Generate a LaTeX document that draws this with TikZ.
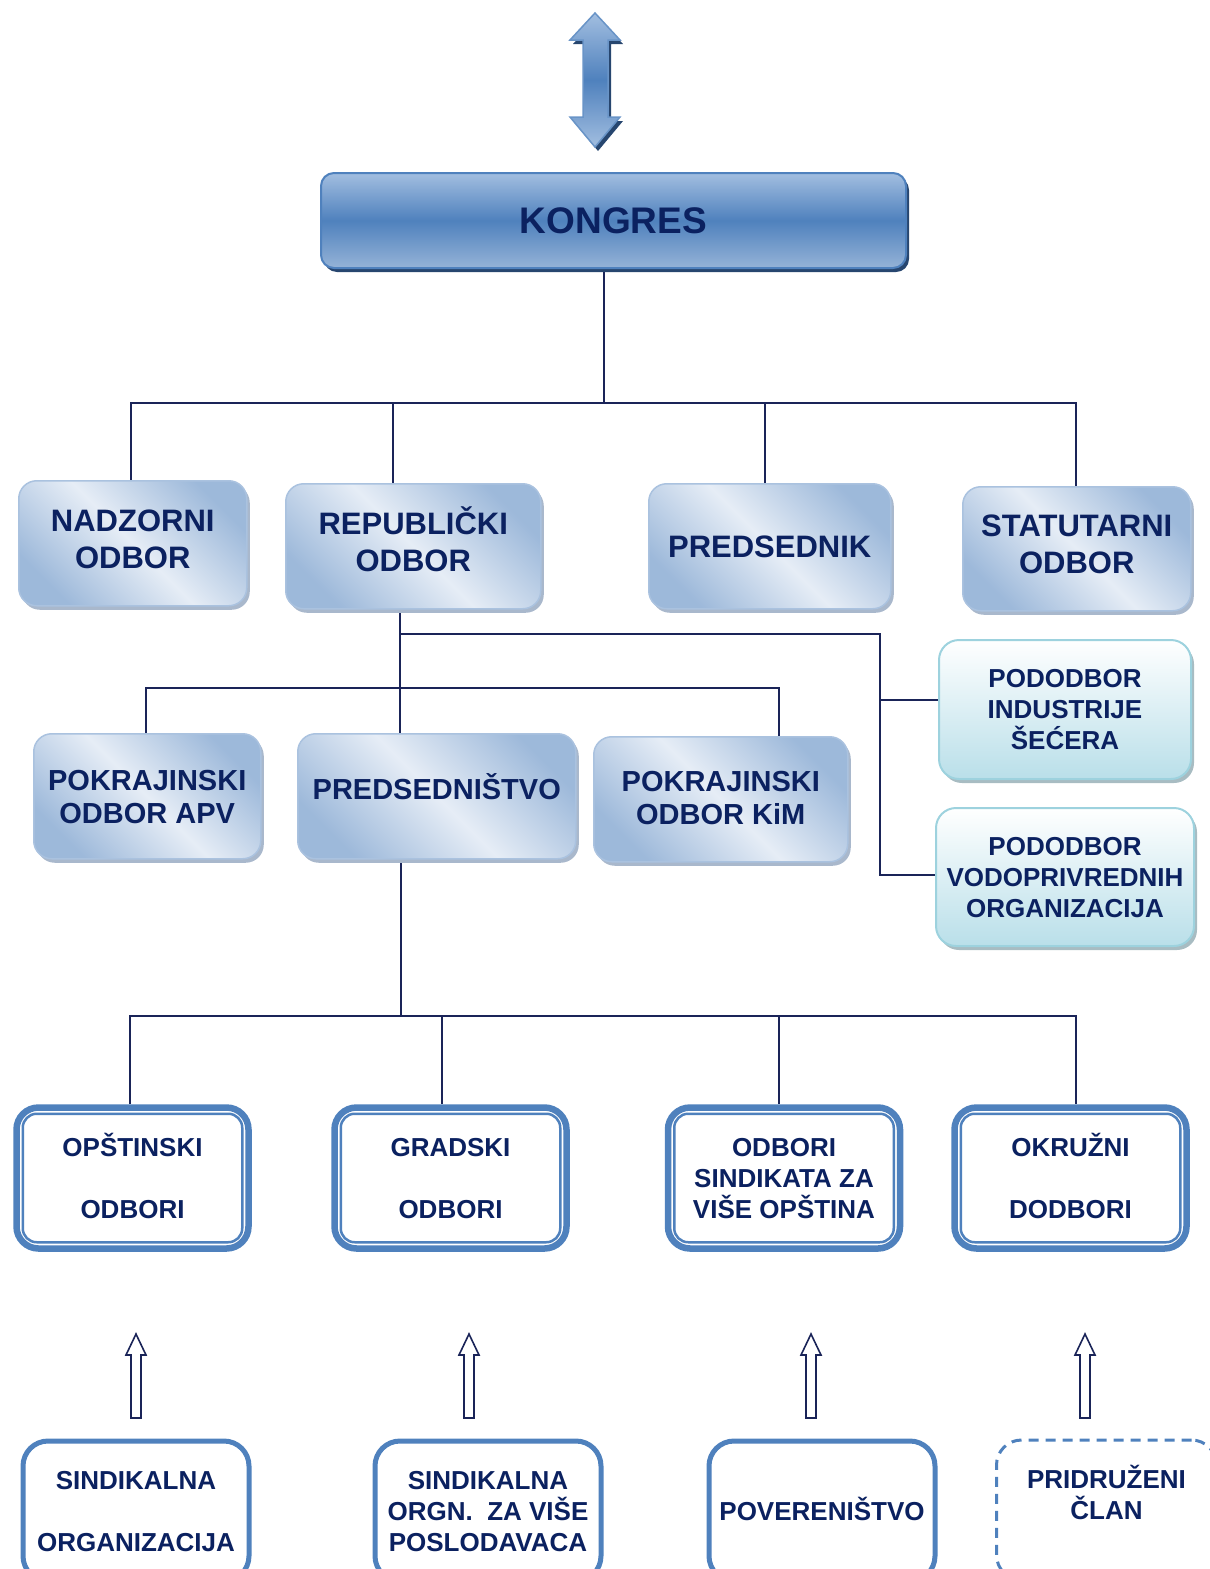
\documentclass[tikz,border=0pt]{standalone}
\usepackage{fontspec}
\setmainfont{Liberation Sans}
\usetikzlibrary{shadows,backgrounds}
\definecolor{navy}{HTML}{0B2160}
\definecolor{linec}{HTML}{1A2458}
\definecolor{bluem}{HTML}{4F81BD}
\definecolor{bluel}{HTML}{95B3D7}
\definecolor{bluek}{HTML}{A2BEE0}
\definecolor{bluexl}{HTML}{E6EDF6}
\definecolor{tealb}{HTML}{9DD2DE}
\definecolor{teall}{HTML}{B9DFE9}
\definecolor{shadowa}{HTML}{A9B8CC}
\definecolor{shadowt}{HTML}{A8BCC2}
\definecolor{shadowk}{HTML}{27466F}
\begin{document}
\begin{tikzpicture}[x=1pt,y=-1pt,
  conn/.style={draw=linec,line width=1.5pt},
  txtA/.style={text=navy,align=center,font=\bfseries\fontsize{31}{37}\selectfont},
  txtB/.style={text=navy,align=center,font=\bfseries\fontsize{29}{33}\selectfont},
  txtC/.style={text=navy,align=center,font=\bfseries\fontsize{26}{31}\selectfont,text height=80.6pt},
  kbox/.style={anchor=north west,inner sep=0pt,rounded corners=13pt,draw=bluem,line width=2pt,
     top color=bluek,bottom color=bluel,middle color=bluem,
     drop shadow={shadow xshift=3pt,shadow yshift=-4pt,fill=shadowk,opacity=1},
     text=navy,font=\bfseries\fontsize{37}{40}\selectfont},
  gbox/.style={anchor=north west,inner sep=0pt,rounded corners=18pt,draw=bluel!80,line width=1.5pt,
     top color=bluel!92!white,bottom color=bluel!92!white,middle color=bluexl,shading angle=-45,
     drop shadow={shadow xshift=3pt,shadow yshift=-4pt,fill=shadowa,opacity=1}},
  tbox/.style={anchor=north west,inner sep=0pt,rounded corners=20pt,draw=tealb,line width=2pt,
     top color=white,bottom color=teall,
     drop shadow={shadow xshift=3pt,shadow yshift=-4pt,fill=shadowt,opacity=1},txtC},
  obox/.style={anchor=north west,inner sep=0pt,rounded corners=22pt,draw=bluem,line width=6.5pt,
     fill=white,minimum width=232pt,minimum height=141pt,txtC},
  ibox/.style={draw=bluem,line width=2.5pt,rounded corners=14pt},
  bbox/.style={anchor=north west,inner sep=0pt,rounded corners=25pt,draw=bluem,line width=5pt,
     fill=white,minimum width=226pt,minimum height=140pt,txtC},
  dbox/.style={anchor=north west,inner sep=0pt,rounded corners=25pt,draw=bluem,line width=3pt,
     dash pattern=on 10pt off 7pt,minimum width=220pt,minimum height=140pt,txtC},
  harrow/.style={draw=linec,line width=1.6pt,fill=white,line join=miter}
]
\useasboundingbox (0,0) rectangle (1210,1569);
\clip (0,0) rectangle (1210,1569);

% top double arrow
\shade[top color=bluek,bottom color=bluek,middle color=bluem,draw=bluem!85,line width=1.5pt,
  drop shadow={shadow xshift=3pt,shadow yshift=-4pt,fill=shadowk,opacity=1}]
  (595,13) -- (620,40) -- (608,40) -- (608,117) -- (620,117) -- (595,147) -- (570,117)
  -- (583,117) -- (583,40) -- (570,40) -- cycle;

% KONGRES
\node[kbox,minimum width=585pt,minimum height=95pt] (kongres) at (320,172) {KONGRES};

% row 2
\node[gbox,txtA,text height=51.2pt,minimum width=228pt,minimum height=125pt] (nadzorni) at (18,480) {NADZORNI\\ODBOR};
\node[gbox,txtA,text height=50.2pt,minimum width=255pt,minimum height=125pt] (republicki) at (285,483) {REPUBLIČKI\\ODBOR};
\node[gbox,txtA,text height=22.2pt,minimum width=242pt,minimum height=125pt] (predsednik) at (648,483) {PREDSEDNIK};
\node[gbox,txtA,text height=50.2pt,minimum width=228pt,minimum height=124pt] (statutarni) at (962,486) {STATUTARNI\\ODBOR};

% row 3
\node[gbox,txtB,text height=53.8pt,minimum width=227pt,minimum height=125pt] (apv) at (33,733) {POKRAJINSKI\\ODBOR APV};
\node[gbox,txtB,text height=5.8pt,minimum width=278pt,minimum height=125pt] (predsednistvo) at (297,733) {PREDSEDNIŠTVO};
\node[gbox,txtB,text height=49.8pt,minimum width=254pt,minimum height=125pt] (kim) at (593,736) {POKRAJINSKI\\ODBOR KiM};
\node[tbox,minimum width=252pt,minimum height=139pt] (pod1) at (938,639) {PODODBOR\\INDUSTRIJE\\ŠEĆERA};
\node[tbox,minimum width=258pt,minimum height=138pt] (pod2) at (935,807) {PODODBOR\\VODOPRIVREDNIH\\ORGANIZACIJA};

% row 4
\node[obox] (opstinski) at (13.25,1104.25) {OPŠTINSKI\\[31pt]ODBORI};
\node[obox] (gradski) at (331.25,1104.25) {GRADSKI\\[31pt]ODBORI};
\node[obox] (odbsind) at (664.75,1104.25) {ODBORI\\SINDIKATA ZA\\VIŠE OPŠTINA};
\node[obox] (okruzni) at (951.25,1104.25) {OKRUŽNI\\[31pt]DODBORI};
\draw[ibox] ([shift={(9.5,9.5)}]opstinski.north west) rectangle ([shift={(-9.5,-9.5)}]opstinski.south east);
\draw[ibox] ([shift={(9.5,9.5)}]gradski.north west) rectangle ([shift={(-9.5,-9.5)}]gradski.south east);
\draw[ibox] ([shift={(9.5,9.5)}]odbsind.north west) rectangle ([shift={(-9.5,-9.5)}]odbsind.south east);
\draw[ibox] ([shift={(9.5,9.5)}]okruzni.north west) rectangle ([shift={(-9.5,-9.5)}]okruzni.south east);

% bottom row
\node[bbox] (sindorg) at (20.5,1438.5) {SINDIKALNA\\[31pt]ORGANIZACIJA};
\node[bbox] (sindorgn) at (372.5,1438.5) {SINDIKALNA\\ORGN.~~ZA VIŠE\\POSLODAVACA};
\node[bbox,text height=18.6pt] (povereni) at (706.5,1438.5) {POVERENIŠTVO};
\node[dbox] (pridruzeni) at (995,1438.5) {PRIDRUŽENI\\ČLAN\\~};

% hollow arrows
\foreach \c in {136,469,811,1085}{
  \draw[harrow] (\c,1334) -- (\c+10,1355) -- (\c+5,1355) -- (\c+5,1418) -- (\c-5,1418)
    -- (\c-5,1355) -- (\c-10,1355) -- cycle;
}

% connectors
\begin{scope}[on background layer]
\coordinate (bus1) at (604,403);
\coordinate (b1L) at (131,403);
\coordinate (b1R) at (1076,403);
\coordinate (b1r) at (393,403);
\coordinate (b1p) at (765,403);
\draw[conn] (kongres.south -| bus1) -- (bus1);
\draw[conn] (nadzorni.north -| b1L) -- (b1L) -- (b1R) -- (statutarni.north -| b1R);
\draw[conn] (b1r) -- (republicki.north -| b1r);
\draw[conn] (b1p) -- (predsednik.north -| b1p);

\coordinate (v2) at (400,634);
\coordinate (p0) at (880,634);
\coordinate (p1) at (880,700);
\coordinate (p2) at (880,875);
\draw[conn] (republicki.south -| v2) -- (predsednistvo.north -| v2);
\draw[conn] (v2) -- (p0) -- (p2) -- (pod2.west |- p2);
\draw[conn] (p1) -- (pod1.west |- p1);

\coordinate (b3L) at (146,688);
\coordinate (b3R) at (779,688);
\draw[conn] (apv.north -| b3L) -- (b3L) -- (b3R) -- (kim.north -| b3R);

\coordinate (v4) at (401,1016);
\coordinate (b4L) at (130,1016);
\coordinate (b4R) at (1076,1016);
\coordinate (b4g) at (442,1016);
\coordinate (b4s) at (779,1016);
\draw[conn] (predsednistvo.south -| v4) -- (v4);
\draw[conn] (opstinski.north -| b4L) -- (b4L) -- (b4R) -- (okruzni.north -| b4R);
\draw[conn] (b4g) -- (gradski.north -| b4g);
\draw[conn] (b4s) -- (odbsind.north -| b4s);
\end{scope}
\end{tikzpicture}
\end{document}
